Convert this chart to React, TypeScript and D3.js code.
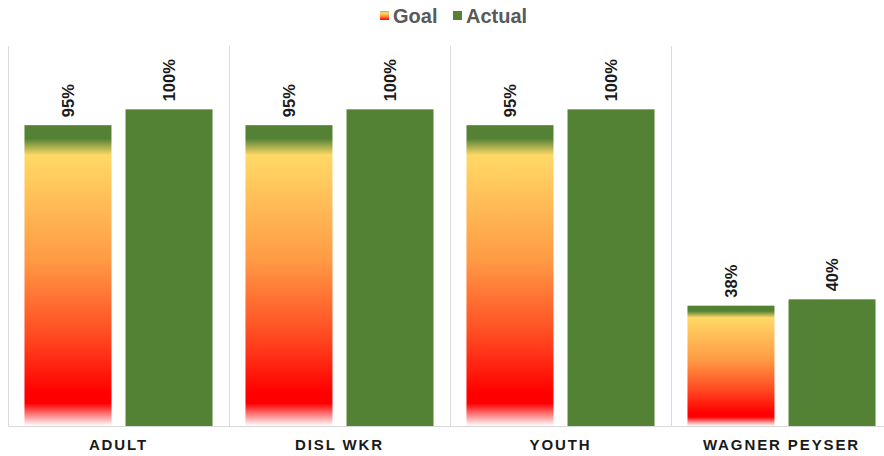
import React, { useEffect, useRef } from "react";
import * as d3 from "d3";

const categories = ["ADULT", "DISL WKR", "YOUTH", "WAGNER PEYSER"];
const goalValues = [95, 95, 95, 38];
const actualValues = [100, 100, 100, 40];
const seriesNames = ["Goal", "Actual"];

const WIDTH = 884;
const HEIGHT = 456;

const App = () => {
  const chartRef = useRef<SVGSVGElement>(null);

  useEffect(() => {
    drawChart();
  }, []);

  const drawChart = () => {
    const margin = { top: 46, right: -8, bottom: 30, left: 8 };
    const svg = d3.select(chartRef.current);
    svg.selectAll("*").remove();

    const green = "#548235";
    const font = "Liberation Sans, Arial, sans-serif";

    // gradient for the goal bars
    const defs = svg.append("defs");
    const grad = defs
      .append("linearGradient")
      .attr("id", "goalGrad")
      .attr("x1", 0)
      .attr("y1", 0)
      .attr("x2", 0)
      .attr("y2", 1);
    const stops: [number, string][] = [
      [0, green],
      [0.045, green],
      [0.1, "#FFD966"],
      [0.45, "#FF9A45"],
      [0.7, "#FF4A22"],
      [0.89, "#FF0000"],
      [0.925, "#FF0000"],
      [1, "#FFFFFF"],
    ];
    stops.forEach(([o, c]) =>
      grad.append("stop").attr("offset", o).attr("stop-color", c)
    );
    const legGrad = defs
      .append("linearGradient")
      .attr("id", "legendGrad")
      .attr("x1", 0)
      .attr("y1", 0)
      .attr("x2", 0)
      .attr("y2", 1);
    [
      [0, "#A9C05A"],
      [0.25, "#FFD966"],
      [0.6, "#FF8A3D"],
      [1, "#FF0000"],
    ].forEach(([o, c]) =>
      legGrad.append("stop").attr("offset", o as number).attr("stop-color", c as string)
    );

    const baseY = HEIGHT - margin.bottom;

    const x = d3
      .scaleBand()
      .domain(categories)
      .range([margin.left, margin.left + 4 * 221])
      .padding(0);

    const xInner = d3
      .scaleBand()
      .domain(seriesNames)
      .range([0, x.bandwidth()])
      .paddingInner(0.139)
      .paddingOuter(0.163);

    const y = d3.scaleLinear().domain([0, 120]).range([baseY, margin.top]);

    // group separators
    svg
      .append("g")
      .selectAll("line")
      .data(categories)
      .enter()
      .append("line")
      .attr("x1", (d) => x(d)! + 0.5)
      .attr("x2", (d) => x(d)! + 0.5)
      .attr("y1", margin.top)
      .attr("y2", baseY)
      .attr("stroke", "#D9D9D9")
      .attr("stroke-width", 1);

    // baseline
    svg
      .append("line")
      .attr("x1", margin.left)
      .attr("x2", WIDTH)
      .attr("y1", baseY + 0.5)
      .attr("y2", baseY + 0.5)
      .attr("stroke", "#D9D9D9");

    const rows = categories.map((c, i) => ({
      cat: c,
      vals: [
        { key: "Goal", v: goalValues[i] },
        { key: "Actual", v: actualValues[i] },
      ],
    }));

    const groups = svg
      .selectAll(".grp")
      .data(rows)
      .enter()
      .append("g")
      .attr("transform", (d) => `translate(${x(d.cat)},0)`);

    groups
      .selectAll("rect")
      .data((d) => d.vals)
      .enter()
      .append("rect")
      .attr("x", (d) => xInner(d.key)!)
      .attr("y", (d) => y(d.v))
      .attr("width", xInner.bandwidth())
      .attr("height", (d) => baseY - y(d.v))
      .attr("fill", (d) => (d.key === "Goal" ? "url(#goalGrad)" : green));

    // value labels (rotated)
    groups
      .selectAll("text.val")
      .data((d) => d.vals)
      .enter()
      .append("text")
      .attr("class", "val")
      .attr(
        "transform",
        (d) =>
          `translate(${xInner(d.key)! + xInner.bandwidth() / 2 + 6},${y(d.v) - 8}) rotate(-90)`
      )
      .attr("text-anchor", "start")
      .style("font-family", font)
      .style("font-weight", "bold")
      .style("font-size", "16.5px")
      .style("fill", "#1a1a1a")
      .text((d) => `${d.v}%`);

    // category labels
    svg
      .append("g")
      .selectAll("text")
      .data(categories)
      .enter()
      .append("text")
      .attr("x", (d) => x(d)! + x.bandwidth() / 2)
      .attr("y", baseY + 24)
      .attr("text-anchor", "middle")
      .style("font-family", font)
      .style("font-weight", "bold")
      .style("font-size", "15px")
      .style("letter-spacing", "1.9px")
      .style("fill", "#1a1a1a")
      .text((d) => d);

    // legend
    const legend = svg.append("g");
    const legendItems = [
      { name: "Goal", x: 380, fill: "url(#legendGrad)" },
      { name: "Actual", x: 453, fill: green },
    ];
    legendItems.forEach((it) => {
      legend
        .append("rect")
        .attr("x", it.x)
        .attr("y", 11)
        .attr("width", 9)
        .attr("height", 9)
        .attr("fill", it.fill);
      legend
        .append("text")
        .attr("x", it.x + 13)
        .attr("y", 23)
        .style("font-family", font)
        .style("font-weight", "bold")
        .style("font-size", "20px")
        .style("fill", "#595959")
        .text(it.name);
    });
  };

  return (
    <svg
      ref={chartRef}
      width={WIDTH}
      height={HEIGHT}
      style={{ position: "absolute", left: 0, top: 0, background: "#fff" }}
    ></svg>
  );
};

export default App;
